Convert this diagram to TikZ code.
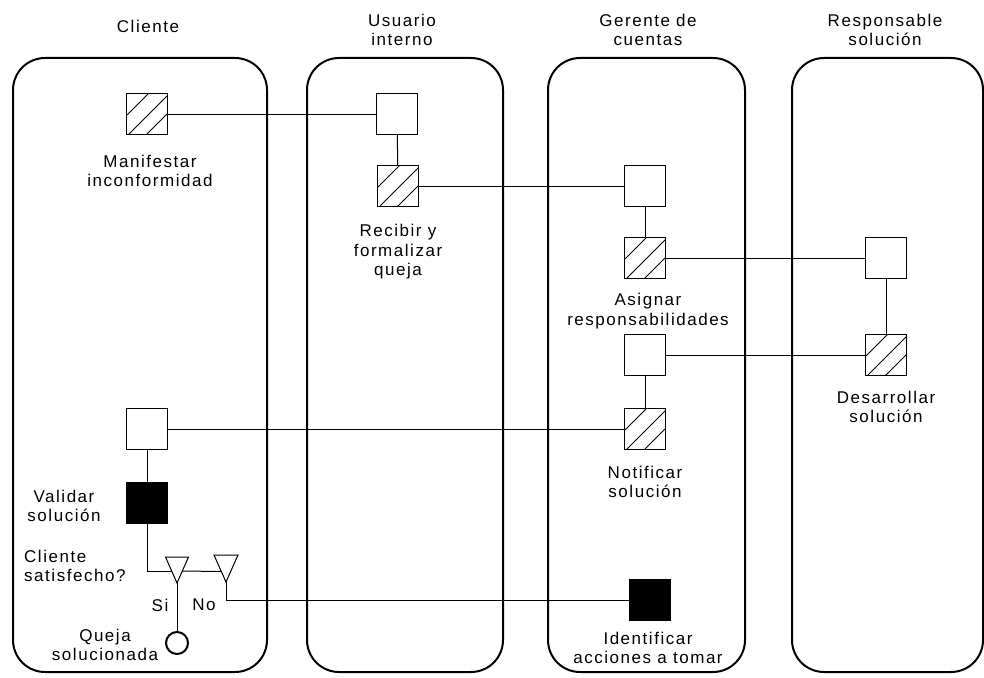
\documentclass[tikz,border=0pt]{standalone}
\usepackage{fontspec}
\setmainfont{Liberation Sans}[LetterSpace=9]
\usetikzlibrary{calc}
\begin{document}
\begin{tikzpicture}[x=1pt,y=-1pt,
  every node/.style={font=\fontsize{17}{19.5}\selectfont, inner sep=0pt, align=center},
  lane/.style={draw, line width=2pt, rounded corners=32pt},
  actbox/.style={draw, line width=1pt, minimum size=41pt},
  hatchbox/.style={actbox, path picture={
      \draw[line width=0.8pt] ($(path picture bounding box.south west)+(0pt,19pt)$) -- ($(path picture bounding box.north east)+(-19pt,0pt)$);
      \draw[line width=0.8pt] ($(path picture bounding box.south west)+(2pt,0pt)$) -- ($(path picture bounding box.north east)+(0pt,-2pt)$);
      \draw[line width=0.8pt] ($(path picture bounding box.south west)+(20pt,0pt)$) -- ($(path picture bounding box.north east)+(0pt,-20pt)$);
  }},
  blackbox/.style={actbox, fill=black},
  link/.style={line width=1pt},
  tri/.style={line width=1pt},
  endstate/.style={draw, circle, line width=2pt, minimum size=22pt}
]
\useasboundingbox (0,0) rectangle (984,677);

% swimlanes
\node[lane, minimum width=254pt, minimum height=614pt] (laneC) at (140,365) {};
\node[lane, minimum width=196pt, minimum height=614pt] (laneU) at (405,365) {};
\node[lane, minimum width=197pt, minimum height=614pt] (laneG) at (646.5,365) {};
\node[lane, minimum width=191pt, minimum height=614pt] (laneR) at (887.5,365) {};

% lane titles
\node (tC) at (148,26) {Cliente};
\node (tU) at (402,30) {Usuario\\interno};
\node (tG) at (648,30) {Gerente de\\cuentas};
\node (tR) at (885,30) {Responsable\\solución};

% activities
\node[hatchbox] (m1) at (147,114) {};
\node[actbox]   (u1) at (397,114) {};
\node[hatchbox] (u2) at (398,186) {};
\node[actbox]   (g1) at (645,186) {};
\node[hatchbox] (g2) at (645,258) {};
\node[actbox]   (r1) at (886,258) {};
\node[actbox]   (g3) at (645,355) {};
\node[hatchbox] (r2) at (886,355) {};
\node[actbox]   (c1) at (147,429) {};
\node[hatchbox] (g4) at (645,429) {};
\node[blackbox] (c2) at (147,503) {};
\node[blackbox] (g5) at (650,600) {};
\node[endstate] (fin) at (177,643) {};

% activity labels
\node (lm1) at (150,171) {Manifestar\\inconformidad};
\node (lu2) at (398,252) {Recibir y\\formalizar\\queja};
\node (lg2) at (648,311) {Asignar\\responsabilidades};
\node (lr2) at (886,407) {Desarrollar\\solución};
\node (lg4) at (645,482) {Notificar\\solución};
\node (lc2) at (64,506) {Validar\\solución};
\node[anchor=west, align=left] (lq) at (24,566) {Cliente\\satisfecho?};
\node (lsi) at (160,605) {Si};
\node (lno) at (204,605) {No};
\node (lfin) at (105,645) {Queja\\solucionada};
\node (lg5) at (648,648) {Identificar\\acciones a tomar};

% decision triangles
\coordinate (t1apex) at (177,583);
\coordinate (t1l) at (171.7,571);
\coordinate (t1r) at (182.3,571);
\draw[tri] (t1apex) -- ++(-11.5,-26) -- ++(23,0) -- cycle;
\coordinate (t2apex) at (226,582);
\coordinate (t2l) at (221.4,571.5);
\draw[tri] (t2apex) -- ++(-12,-27) -- ++(24,0) -- cycle;

% connectors
\draw[link] (m1.east) -- (u1.west);
\draw[link] (u1) -- (u2);
\draw[link] (u2.east) -- (g1.west);
\draw[link] (g1) -- (g2);
\draw[link] (g2.east) -- (r1.west);
\draw[link] (r1) -- (r2);
\draw[link] (r2.west) -- (g3.east);
\draw[link] (g3) -- (g4);
\draw[link] (c1.east) -- (g4.west);
\draw[link] (c1) -- (c2);
\draw[link] (c2.south) |- (t1l);
\draw[link] (t1r) -- (t2l);
\draw[link] (t2apex) |- (g5.west);
\draw[link] (t1apex) -- (fin.north);
\end{tikzpicture}
\end{document}
